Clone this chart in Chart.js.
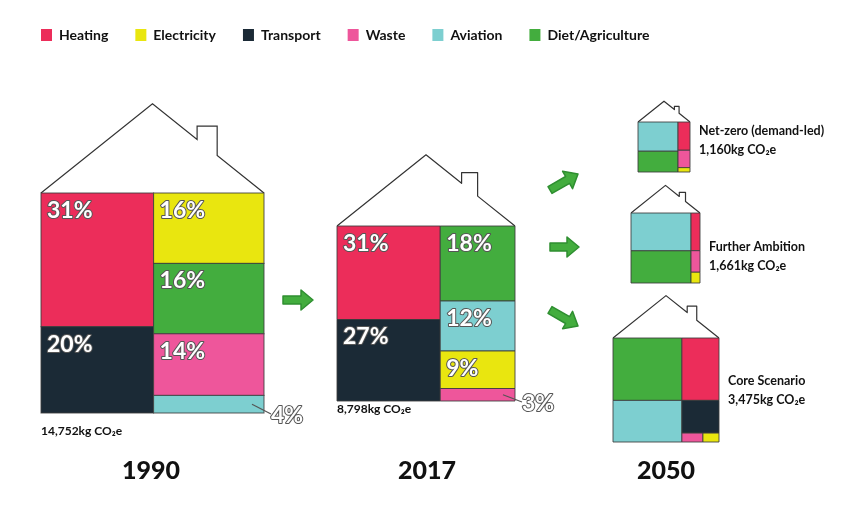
<!DOCTYPE html>
<html>
<head>
<meta charset="utf-8">
<script src="https://cdn.jsdelivr.net/npm/chart.js@4"></script>
<style>
  html, body { margin: 0; padding: 0; background: #ffffff; }
  #wrap { width: 859px; height: 512px; }
</style>
</head>
<body>
<div id="wrap"><canvas id="chartCanvas" width="859" height="512"></canvas></div>
<script>
/********** DATA **********/
const categories = ["Heating", "Electricity", "Transport", "Waste", "Aviation", "Diet/Agriculture"];
// share of footprint (%) per category, same order as categories
const share1990 = [31, 16, 20, 14, 4, 16];
const share2017 = [31, 9, 27, 3, 12, 18];
const shareNetZero = [13, 2, 0, 8, 45, 32];
const shareFurther = [7, 2, 0, 4, 47, 40];
const shareCore = [21, 1.3, 11, 1.7, 26, 39];
const totalsKg = [14752, 8798, 1160, 1661, 3475];
const years = ["1990", "2017", "2050"];
const scenarioNames = ["Net-zero (demand-led)", "Further Ambition", "Core Scenario"];

/********** STYLE / LAYOUT **********/
const colors = ["#ec2d5a", "#e9e60f", "#1b2a36", "#ee569b", "#7dcfd0", "#43ad3e"];
const FONT = "Lato, 'Open Sans', sans-serif";

// columns -> rows -> category indices (treemap grouping)
const houses = [
  { values: share1990, total: totalsKg[0], left: 41, top: 193, width: 223, height: 220,
    columns: [[[0], [2]], [[1], [5], [3], [4]]], pct: true, totalLabel: { x: 41, y: 431 } },
  { values: share2017, total: totalsKg[1], left: 337, top: 226, width: 178, height: 175,
    columns: [[[0], [2]], [[5], [4], [1], [3]]], pct: true, totalLabel: { x: 337, y: 409 } },
  { values: shareNetZero, total: totalsKg[2], left: 638, top: 122, width: 52, height: 50,
    columns: [[[4], [5]], [[0], [3], [1]]], name: scenarioNames[0], nameY: 131 },
  { values: shareFurther, total: totalsKg[3], left: 631, top: 213, width: 69, height: 70,
    columns: [[[4], [5]], [[0], [3], [1]]], name: scenarioNames[1], nameY: 247 },
  { values: shareCore, total: totalsKg[4], left: 613, top: 338, width: 106, height: 104,
    columns: [[[5], [4]], [[0], [2], [3, 1]]], name: scenarioNames[2], nameY: 381 }
];
const yearLabels = [{ text: years[0], x: 151 }, { text: years[1], x: 427 }, { text: years[2], x: 666 }];
const arrows = [[283, 300, 313, 300], [550, 190, 578, 174], [550, 247, 579, 247], [550, 310, 578, 326]];

function fmtTotal(v) { return v.toLocaleString("en-US") + "kg CO\u2082e"; }

function layoutCells(h) {
  const sum = ids => ids.reduce((s, i) => s + h.values[i], 0);
  const colSum = col => col.reduce((s, row) => s + sum(row), 0);
  const total = h.columns.reduce((s, c) => s + colSum(c), 0);
  const cells = [];
  let cx = h.left;
  h.columns.forEach(col => {
    const cs = colSum(col);
    const cw = h.width * cs / total;
    let cy = h.top;
    col.forEach(row => {
      const rs = sum(row);
      const rh = h.height * rs / cs;
      let rx = cx;
      row.forEach(i => {
        const w = cw * h.values[i] / rs;
        cells.push({ i: i, x0: rx, x1: rx + w, y0: cy, y1: cy + rh });
        rx += w;
      });
      cy += rh;
    });
    cx += cw;
  });
  return cells;
}

/********** DRAWING PLUGIN **********/
const houseTreemap = {
  id: "houseTreemap",
  afterDatasetsDraw(chart) {
    const ctx = chart.ctx;
    const xs = chart.scales.x, ys = chart.scales.y;
    const px = v => xs.getPixelForValue(v);
    const py = v => ys.getPixelForValue(v);
    ctx.save();

    // legend
    let lx = 41;
    ctx.font = "bold 14px " + FONT;
    ctx.textBaseline = "middle";
    ctx.textAlign = "left";
    chart.data.datasets.forEach(ds => {
      ctx.fillStyle = ds.backgroundColor;
      ctx.fillRect(px(lx), py(29), 11, 12);
      ctx.fillStyle = "#111";
      ctx.fillText(ds.label, px(lx + 18), py(35));
      lx += 18 + ctx.measureText(ds.label).width + 27;
    });

    houses.forEach(h => {
      const L = h.left, R = h.left + h.width, T = h.top, W = h.width;
      // roof with chimney
      const roofH = 0.4 * W;
      const apexX = L + W / 2, apexY = T - roofH;
      const roofY = x => apexY + (x - apexX) * (roofH / (W / 2));
      const chL = L + 0.70 * W, chR = L + 0.79 * W, chT = T - 0.30 * W;
      ctx.beginPath();
      ctx.moveTo(px(L), py(T));
      ctx.lineTo(px(apexX), py(apexY));
      ctx.lineTo(px(chL), py(roofY(chL)));
      ctx.lineTo(px(chL), py(chT));
      ctx.lineTo(px(chR), py(chT));
      ctx.lineTo(px(chR), py(roofY(chR)));
      ctx.lineTo(px(R), py(T));
      ctx.strokeStyle = "#333";
      ctx.lineWidth = 1.2;
      ctx.stroke();

      // cells
      const cells = layoutCells(h);
      cells.forEach(c => {
        ctx.fillStyle = colors[c.i];
        ctx.fillRect(px(c.x0), py(c.y0), px(c.x1) - px(c.x0), py(c.y1) - py(c.y0));
        ctx.strokeStyle = "rgba(60,60,60,0.85)";
        ctx.lineWidth = 1;
        ctx.strokeRect(px(c.x0), py(c.y0), px(c.x1) - px(c.x0), py(c.y1) - py(c.y0));
      });

      // percent labels
      if (h.pct) {
        ctx.font = "bold 23px " + FONT;
        ctx.textBaseline = "top";
        ctx.lineJoin = "round";
        cells.forEach(c => {
          const txt = h.values[c.i] + "%";
          let tx, ty;
          if (c.y1 - c.y0 > 25) {
            tx = c.x0 + 6; ty = c.y0 + 6;
          } else {
            tx = R + 7; ty = c.y1 - 9;
            ctx.beginPath();
            ctx.moveTo(px(R - 12), py((c.y0 + c.y1) / 2));
            ctx.lineTo(px(R + 7), py(c.y1 + 1));
            ctx.strokeStyle = "#555";
            ctx.lineWidth = 1.2;
            ctx.stroke();
          }
          ctx.strokeStyle = "#555";
          ctx.lineWidth = 2;
          ctx.strokeText(txt, px(tx), py(ty));
          ctx.fillStyle = "#fff";
          ctx.fillText(txt, px(tx), py(ty));
        });
        ctx.font = "bold 12px " + FONT;
        ctx.textBaseline = "middle";
        ctx.fillStyle = "#111";
        ctx.fillText(fmtTotal(h.total), px(h.totalLabel.x), py(h.totalLabel.y));
      } else {
        ctx.font = "bold 12.5px " + FONT;
        ctx.textBaseline = "middle";
        ctx.fillStyle = "#111";
        ctx.fillText(h.name, px(R + 9), py(h.nameY));
        ctx.fillText(fmtTotal(h.total), px(R + 9), py(h.nameY + 19));
      }
    });

    // year labels
    ctx.font = "900 25px " + FONT;
    ctx.textAlign = "center";
    ctx.textBaseline = "middle";
    ctx.fillStyle = "#111";
    yearLabels.forEach(l => ctx.fillText(l.text, px(l.x), py(471)));

    // arrows
    arrows.forEach(a => {
      const x0 = px(a[0]), y0 = py(a[1]), x1 = px(a[2]), y1 = py(a[3]);
      const len = Math.hypot(x1 - x0, y1 - y0);
      ctx.save();
      ctx.translate(x0, y0);
      ctx.rotate(Math.atan2(y1 - y0, x1 - x0));
      ctx.beginPath();
      ctx.moveTo(0, -4);
      ctx.lineTo(len - 12, -4);
      ctx.lineTo(len - 12, -10);
      ctx.lineTo(len, 0);
      ctx.lineTo(len - 12, 10);
      ctx.lineTo(len - 12, 4);
      ctx.lineTo(0, 4);
      ctx.closePath();
      ctx.lineJoin = "round";
      ctx.fillStyle = "#43ad3e";
      ctx.fill();
      ctx.strokeStyle = "#2f8f31";
      ctx.lineWidth = 1.5;
      ctx.stroke();
      ctx.restore();
    });

    ctx.restore();
  }
};

/********** CHART.JS SETUP **********/
const ctx = document.getElementById("chartCanvas").getContext("2d");
new Chart(ctx, {
  type: "scatter",
  data: {
    datasets: categories.map((name, idx) => ({
      label: name,
      data: [],
      backgroundColor: colors[idx],
      borderColor: colors[idx]
    }))
  },
  options: {
    responsive: false,
    animation: false,
    devicePixelRatio: 1,
    layout: { padding: 0 },
    plugins: { legend: { display: false }, tooltip: { enabled: false } },
    scales: {
      x: { type: "linear", min: 0, max: 859, display: false },
      y: { type: "linear", min: 0, max: 512, reverse: true, display: false }
    }
  },
  plugins: [houseTreemap]
});
</script>
</body>
</html>
